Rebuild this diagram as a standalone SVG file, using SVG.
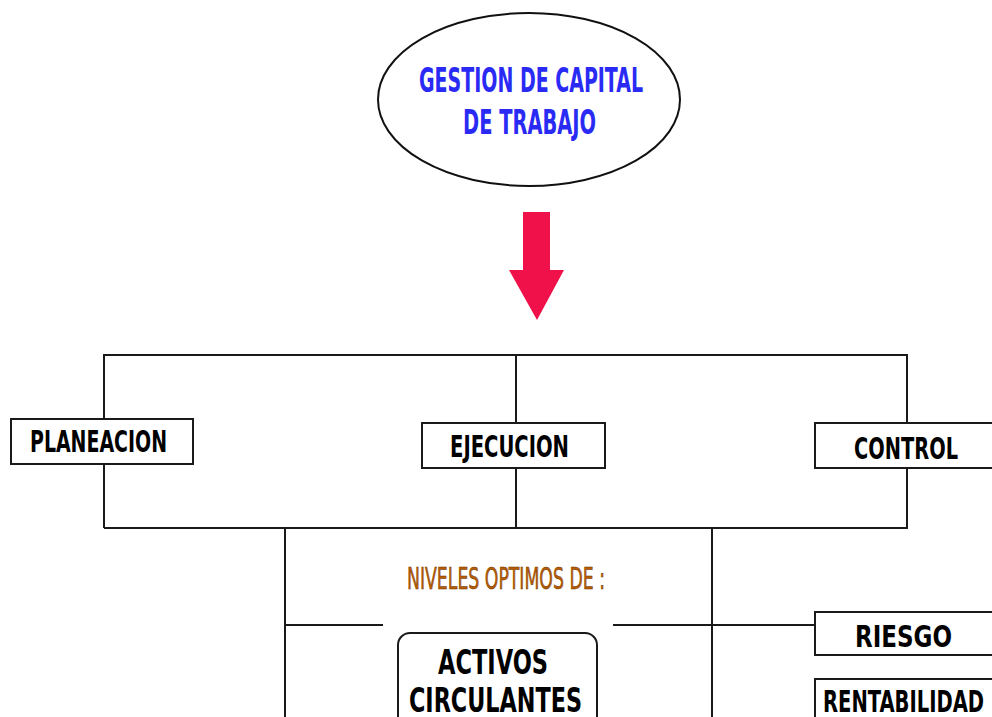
<svg xmlns="http://www.w3.org/2000/svg" width="992" height="717" viewBox="0 0 992 717">
<style>
.ln{stroke:#1a1a1a;stroke-width:2;fill:none}
.bx{fill:#fff;stroke:#1a1a1a;stroke-width:2}
.t{font-family:"Liberation Sans Narrow","DejaVu Sans Condensed","Liberation Sans",sans-serif;font-weight:bold;fill:#000}
.blue{fill:#2a2af5;font-size:34px}
.org{fill:#b85c00;font-size:30px;font-weight:normal;stroke:#6b3300;stroke-width:0.5}
.k{font-size:31px}
.big{font-size:34px}
</style>
<rect width="992" height="717" fill="#fff"/>
<g id="connectors">
<polyline class="ln" points="104,528 104,355 907,355 907,528 104,528"/>
<line class="ln" x1="516" y1="355" x2="516" y2="528"/>
<line class="ln" x1="285" y1="528" x2="285" y2="717"/>
<line class="ln" x1="712" y1="528" x2="712" y2="717"/>
<line class="ln" x1="285" y1="625" x2="383" y2="625"/>
<line class="ln" x1="613" y1="625" x2="816" y2="625"/>
<polygon id="arrow" points="523,212 550,212 550,270 564,270 537,320 509,270 523,270" fill="#f0104a"/>
</g>
<g id="gestion">
<ellipse cx="529" cy="99.5" rx="151" ry="86.5" fill="#fff" stroke="#111" stroke-width="2"/>
<text class="t blue" x="419" y="92" textLength="224" lengthAdjust="spacingAndGlyphs">GESTION DE CAPITAL</text>
<text class="t blue" x="463" y="134" textLength="133" lengthAdjust="spacingAndGlyphs">DE TRABAJO</text>
</g>
<g id="planeacion">
<rect class="bx" x="11" y="419" width="182" height="45"/>
<text class="t k" x="30" y="452" textLength="137" lengthAdjust="spacingAndGlyphs">PLANEACION</text>
</g>
<g id="ejecucion">
<rect class="bx" x="422" y="423" width="183" height="45"/>
<text class="t k" x="450" y="457" textLength="119" lengthAdjust="spacingAndGlyphs">EJECUCION</text>
</g>
<g id="control">
<rect class="bx" x="815" y="423" width="190" height="45"/>
<text class="t k" x="854" y="459" textLength="104" lengthAdjust="spacingAndGlyphs">CONTROL</text>
</g>
<g id="niveles">
<text class="t org" x="407" y="589" textLength="198" lengthAdjust="spacingAndGlyphs">NIVELES OPTIMOS DE :</text>
</g>
<g id="activos">
<rect class="bx" x="398" y="633" width="199" height="100" rx="12"/>
<text class="t big" x="438" y="674" textLength="110" lengthAdjust="spacingAndGlyphs">ACTIVOS</text>
<text class="t big" x="409" y="712" textLength="173" lengthAdjust="spacingAndGlyphs">CIRCULANTES</text>
</g>
<g id="riesgo">
<rect class="bx" x="815" y="612" width="190" height="43"/>
<text class="t k" x="855" y="647" textLength="97" lengthAdjust="spacingAndGlyphs">RIESGO</text>
</g>
<g id="rentabilidad">
<rect class="bx" x="815" y="679" width="190" height="60"/>
<text class="t k" x="823" y="712" textLength="161" lengthAdjust="spacingAndGlyphs">RENTABILIDAD</text>
</g>
</svg>
